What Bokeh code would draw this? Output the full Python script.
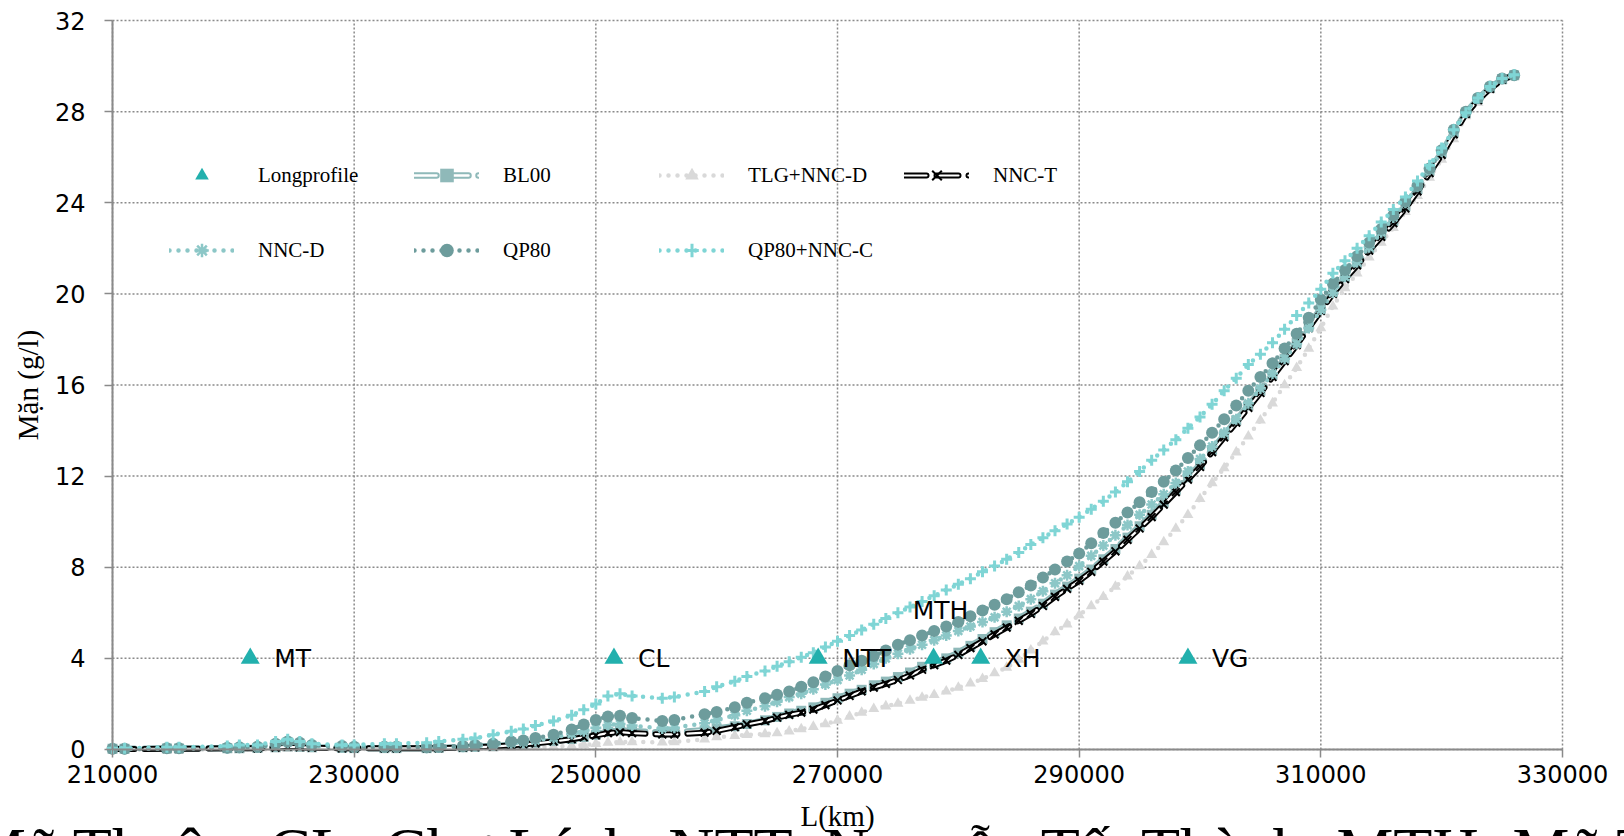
from bokeh.plotting import figure
from bokeh.models import (ColumnDataSource, FixedTicker, NumeralTickFormatter,
                          Legend, LegendItem, Label)
from bokeh.core.properties import value
from bokeh.embed import file_html
from bokeh.resources import INLINE

# ---------------- data ----------------
x_ticks = [210000, 230000, 250000, 270000, 290000, 310000, 330000]
y_ticks = [0, 4, 8, 12, 16, 20, 24, 28, 32]

L = [210000, 211000, 214500, 215500, 219500, 220500, 222000, 223500, 224500, 225500,
     226500, 229000, 230000, 232500, 233500, 236000, 237000, 239000, 240000, 241500,
     243000, 244000, 245000, 246500, 248000, 249000, 250000, 251000, 252000, 253000,
     255500, 256500, 259000, 260000, 261500, 262500,
     264000, 265000, 266000, 267000, 268000, 269000, 270000, 271000, 272000, 273000,
     274000, 275000, 276000, 277000, 278000, 279000, 280000, 281000, 282000, 283000,
     284000, 285000, 286000, 287000, 288000, 289000, 290000, 291000, 292000, 293000,
     294000, 295000, 296000, 297000, 298000, 299000, 300000, 301000, 302000, 303000,
     304000, 305000, 306000, 307000, 308000, 309000, 310000, 311000, 312000, 313000,
     314000, 315000, 316000, 317000, 318000, 319000, 320000, 321000, 322000, 323000,
     324000, 325000, 326000]

bl00 = [0.03, 0.03, 0.04, 0.04, 0.06, 0.06, 0.07, 0.1, 0.14, 0.12,
        0.1, 0.07, 0.06, 0.06, 0.06, 0.06, 0.07, 0.1, 0.12, 0.15,
        0.2, 0.25, 0.3, 0.38, 0.46, 0.55, 0.65, 0.78, 0.84, 0.8,
        0.75, 0.76, 0.84, 0.92, 1.02, 1.12,
        1.28, 1.43, 1.58, 1.7, 1.85, 2.05, 2.25, 2.45, 2.62, 2.82,
        2.98, 3.18, 3.38, 3.63, 3.8, 4.0, 4.25, 4.55, 4.85, 5.15,
        5.45, 5.75, 6.05, 6.4, 6.8, 7.15, 7.5, 7.9, 8.35, 8.8,
        9.3, 9.8, 10.3, 10.85, 11.4, 11.95, 12.5, 13.15, 13.8, 14.45,
        15.1, 15.75, 16.45, 17.15, 17.85, 18.6, 19.35, 20.1, 20.75, 21.35,
        22.0, 22.6, 23.2, 23.85, 24.6, 25.4, 26.2, 27.1, 27.95, 28.55,
        29.05, 29.42, 29.6]

tlg_nncd = [0.0, 0.0, 0.0, 0.0, 0.0, 0.01, 0.01, 0.02, 0.03, 0.03,
            0.02, 0.02, 0.02, 0.02, 0.02, 0.02, 0.02, 0.03, 0.04, 0.05,
            0.07, 0.08, 0.1, 0.12, 0.16, 0.2, 0.25, 0.3, 0.33, 0.33,
            0.32, 0.33, 0.45, 0.54, 0.6, 0.64,
            0.68, 0.72, 0.8, 0.9, 1.0, 1.12, 1.27, 1.45, 1.62, 1.78,
            1.9, 2.02, 2.15, 2.28, 2.4, 2.55, 2.72, 2.9, 3.1, 3.35,
            3.6, 3.95, 4.35, 4.75, 5.15, 5.5, 5.9, 6.3, 6.7, 7.15,
            7.6, 8.05, 8.55, 9.1, 9.7, 10.3, 11.0, 11.7, 12.35, 13.05,
            13.75, 14.45, 15.2, 16.0, 16.75, 17.6, 18.5, 19.45, 20.25, 20.9,
            21.6, 22.25, 22.9, 23.6, 24.3, 25.1, 25.9, 26.8, 27.8, 28.4,
            28.95, 29.35, 29.55]

nnc_t = [0.02, 0.02, 0.03, 0.03, 0.05, 0.05, 0.05, 0.08, 0.12, 0.1,
         0.08, 0.05, 0.05, 0.05, 0.05, 0.05, 0.06, 0.08, 0.1, 0.13,
         0.18, 0.22, 0.27, 0.35, 0.45, 0.54, 0.62, 0.72, 0.76, 0.72,
         0.66, 0.66, 0.74, 0.82, 0.98, 1.1,
         1.25, 1.4, 1.52, 1.62, 1.75, 1.95, 2.15, 2.35, 2.55, 2.72,
         2.88, 3.05, 3.25, 3.5, 3.7, 3.9, 4.15, 4.45, 4.75, 5.05,
         5.35, 5.65, 5.95, 6.3, 6.7, 7.05, 7.4, 7.8, 8.25, 8.7,
         9.2, 9.7, 10.2, 10.75, 11.3, 11.85, 12.4, 13.05, 13.7, 14.35,
         15.0, 15.65, 16.35, 17.05, 17.75, 18.5, 19.25, 20.0, 20.65, 21.25,
         21.9, 22.5, 23.1, 23.75, 24.5, 25.3, 26.1, 27.0, 27.9, 28.5,
         29.0, 29.4, 29.6]

nnc_d = [0.02, 0.02, 0.04, 0.04, 0.06, 0.08, 0.1, 0.2, 0.3, 0.25,
         0.15, 0.12, 0.1, 0.1, 0.1, 0.08, 0.1, 0.12, 0.15, 0.2,
         0.27, 0.32, 0.4, 0.52, 0.68, 0.8, 0.95, 1.08, 1.12, 1.05,
         0.92, 0.96, 1.15, 1.3, 1.5, 1.7,
         1.9, 2.1, 2.3, 2.45, 2.65, 2.85, 3.05, 3.25, 3.5, 3.75,
         4.0, 4.2, 4.4, 4.6, 4.8, 5.0, 5.2, 5.4, 5.6, 5.8,
         6.05, 6.3, 6.6, 6.95, 7.3, 7.65, 8.05, 8.5, 8.95, 9.4,
         9.85, 10.3, 10.75, 11.2, 11.7, 12.2, 12.75, 13.3, 13.9, 14.5,
         15.2, 15.85, 16.5, 17.15, 17.8, 18.5, 19.3, 20.05, 20.75, 21.4,
         22.05, 22.7, 23.35, 24.0, 24.7, 25.45, 26.25, 27.15, 28.0, 28.6,
         29.1, 29.45, 29.6]

qp80 = [0.03, 0.03, 0.05, 0.05, 0.08, 0.1, 0.12, 0.25, 0.35, 0.3,
        0.2, 0.15, 0.12, 0.12, 0.12, 0.1, 0.12, 0.15, 0.2, 0.25,
        0.35, 0.4, 0.5, 0.65, 0.88, 1.1, 1.3, 1.45, 1.48, 1.38,
        1.25, 1.3, 1.55, 1.65, 1.85, 2.05,
        2.25, 2.4, 2.55, 2.75, 2.95, 3.2, 3.45, 3.7, 3.9, 4.1,
        4.35, 4.6, 4.8, 5.0, 5.2, 5.4, 5.6, 5.85, 6.1, 6.35,
        6.6, 6.9, 7.2, 7.55, 7.9, 8.25, 8.6, 9.05, 9.5, 9.95,
        10.4, 10.85, 11.3, 11.75, 12.25, 12.8, 13.35, 13.9, 14.5, 15.1,
        15.75, 16.35, 16.95, 17.6, 18.25, 18.95, 19.75, 20.45, 21.05, 21.65,
        22.25, 22.85, 23.45, 24.05, 24.75, 25.5, 26.3, 27.2, 28.0, 28.6,
        29.1, 29.45, 29.6]

qp80_nncc = [0.05, 0.05, 0.1, 0.1, 0.15, 0.2, 0.2, 0.35, 0.45, 0.35,
             0.25, 0.2, 0.2, 0.25, 0.25, 0.3, 0.35, 0.45, 0.5, 0.65,
             0.8, 0.9, 1.05, 1.25, 1.5, 1.75, 2.0, 2.35, 2.45, 2.35,
             2.25, 2.3, 2.55, 2.75, 3.0, 3.2,
             3.45, 3.65, 3.85, 4.05, 4.25, 4.5, 4.75, 5.0, 5.25, 5.5,
             5.75, 6.0, 6.25, 6.5, 6.75, 7.0, 7.25, 7.5, 7.8, 8.05,
             8.35, 8.65, 9.0, 9.3, 9.6, 9.9, 10.2, 10.55, 10.9, 11.3,
             11.75, 12.2, 12.7, 13.15, 13.6, 14.1, 14.6, 15.15, 15.75, 16.3,
             16.9, 17.35, 17.85, 18.45, 19.05, 19.6, 20.2, 20.9, 21.45, 22.0,
             22.55, 23.15, 23.7, 24.25, 24.95, 25.65, 26.4, 27.2, 27.95, 28.6,
             29.1, 29.45, 29.62]

# Longitudinal profile stations
lp_x = [221400, 251500, 268400, 277950, 281850, 299000]
lp_y = [4, 4, 4, 4, 4, 4]
lp_names = ["MT", "CL", "NTT", "MTH", "XH", "VG"]

caption = ("MT: Mỹ Thuận, CL: Chợ Lách, NTT: Nguyễn Tất Thành, "
           "MTH: Mỹ Tho, XH: Xuân Hiệp, VG: Vàm Giồng")

X_MIN, X_MAX = 210000, 330000
Y_MIN, Y_MAX = 0, 32
# The frame covers the whole canvas so that nothing is clipped; the axes are
# pinned at x=210000 and y=0 so the plotting area keeps its place.
VIEW_X = (200731, 335131)
VIEW_Y = (-3.819, 32.878)

# ---------------- figure ----------------
p = figure(width=1624, height=836, x_range=VIEW_X, y_range=VIEW_Y,
           output_backend="svg", toolbar_location=None,
           min_border_left=0, min_border_right=0, min_border_top=0,
           min_border_bottom=0)
p.outline_line_color = None
p.background_fill_color = "white"
p.border_fill_color = "white"

GRID = "#8a8a8a"
p.xgrid.visible = False
p.ygrid.visible = False
# grid lines limited to the data area
p.segment(x0=x_ticks, y0=[Y_MIN] * len(x_ticks), x1=x_ticks, y1=[Y_MAX] * len(x_ticks),
          line_color=GRID, line_dash="2 2", line_width=1.5)
p.segment(x0=[X_MIN] * len(y_ticks), y0=y_ticks, x1=[X_MAX] * len(y_ticks), y1=y_ticks,
          line_color=GRID, line_dash="2 2", line_width=1.5)

p.xaxis.ticker = FixedTicker(ticks=x_ticks)
p.yaxis.ticker = FixedTicker(ticks=y_ticks)
p.xaxis.formatter = NumeralTickFormatter(format="0")
p.xaxis.fixed_location = Y_MIN
p.yaxis.fixed_location = X_MIN
p.xaxis.bounds = (X_MIN, X_MAX)
p.yaxis.bounds = (Y_MIN, Y_MAX)
for ax in (p.xaxis, p.yaxis):
    ax.axis_line_color = GRID
    ax.axis_line_width = 2
    ax.major_tick_line_color = GRID
    ax.major_tick_line_width = 1.5
    ax.major_tick_out = 8
    ax.major_tick_in = 0
    ax.minor_tick_line_color = None
    ax.major_label_text_font = "DejaVu Sans"
    ax.major_label_text_font_size = "24px"
    ax.major_label_text_color = "black"
    ax.axis_label_text_font = "Liberation Serif"
    ax.axis_label_text_font_style = "normal"
    ax.axis_label_text_font_size = "29px"
    ax.axis_label_text_color = "black"
p.xaxis.axis_label = "L(km)"
p.yaxis.axis_label = "Mặn (g/l)"
p.xaxis.major_label_standoff = 8
p.xaxis.axis_label_standoff = 13
p.yaxis.major_label_standoff = 19
p.yaxis.axis_label_standoff = 8

src = ColumnDataSource(dict(L=L, bl00=bl00, tlg=tlg_nncd, nnct=nnc_t, nncd=nnc_d,
                            qp80=qp80, qpc=qp80_nncc))

C_LP = "#22b0ad"
C_BL = "#8fb9b9"
C_TLG = "#d9d9d9"
C_NNCD = "#8cc7c7"
C_QP = "#6d9c9c"
C_QPC = "#7fd5d5"

DOT = "0 9"
DASH = "22 10"

# Oversized caption at the bottom edge (cut by the window)
p.add_layout(Label(x=187650, y=-4.43, text=caption, text_font="Liberation Serif",
                   text_font_size="64px", text_baseline="alphabetic",
                   text_align="left", text_color="black"))

# TLG+NNC-D
r_tlg_l = p.line("L", "tlg", source=src, line_color=C_TLG, line_width=4.5,
                 line_dash=DOT, line_cap="round")
r_tlg_m = p.scatter("L", "tlg", source=src, marker="triangle", size=11,
                    fill_color=C_TLG, line_color=None)

# BL00 (double dashed line + squares)
r_bl_o = p.line("L", "bl00", source=src, line_color=C_BL, line_width=6.5,
                line_dash=DASH, line_cap="round")
r_bl_i = p.line("L", "bl00", source=src, line_color="white", line_width=2.5,
                line_dash=DASH, line_cap="round")
r_bl_m = p.scatter("L", "bl00", source=src, marker="square", size=10,
                   fill_color=C_BL, line_color=None)

# NNC-T (double dashed black line + x)
r_nt_o = p.line("L", "nnct", source=src, line_color="black", line_width=6,
                line_dash=DASH, line_cap="round")
r_nt_i = p.line("L", "nnct", source=src, line_color="white", line_width=2.2,
                line_dash=DASH, line_cap="round")
r_nt_m = p.scatter("L", "nnct", source=src, marker="x", size=11,
                   line_color="black", line_width=2)

# NNC-D
r_nd_l = p.line("L", "nncd", source=src, line_color=C_NNCD, line_width=4.5,
                line_dash=DOT, line_cap="round")
r_nd_m = p.scatter("L", "nncd", source=src, marker="asterisk", size=11,
                   line_color=C_NNCD, line_width=2.5)

# QP80
r_qp_l = p.line("L", "qp80", source=src, line_color=C_QP, line_width=4.5,
                line_dash=DOT, line_cap="round")
r_qp_m = p.scatter("L", "qp80", source=src, marker="circle", size=12,
                   fill_color=C_QP, line_color=None)

# QP80+NNC-C
r_qc_l = p.line("L", "qpc", source=src, line_color=C_QPC, line_width=4.5,
                line_dash=DOT, line_cap="round")
r_qc_m = p.scatter("L", "qpc", source=src, marker="cross", size=11,
                   line_color=C_QPC, line_width=3)

# Longprofile stations
lp_src = ColumnDataSource(dict(x=lp_x, y=lp_y, name=lp_names))
r_lp = p.scatter("x", "y", source=lp_src, marker="triangle", size=19,
                 fill_color=C_LP, line_color=None)

side_src = ColumnDataSource(dict(x=[lp_x[i] for i in (0, 1, 2, 4, 5)],
                                 y=[lp_y[i] for i in (0, 1, 2, 4, 5)],
                                 t=[lp_names[i] for i in (0, 1, 2, 4, 5)]))
p.text("x", "y", text="t", source=side_src, x_offset=24, text_baseline="middle",
       text_align="left", text_font=value("DejaVu Sans"), text_font_size="25px",
       text_color="black")
top_src = ColumnDataSource(dict(x=[lp_x[3]], y=[lp_y[3]], t=[lp_names[3]]))
p.text("x", "y", text="t", source=top_src, x_offset=7, y_offset=-48,
       text_baseline="middle", text_align="center",
       text_font=value("DejaVu Sans"), text_font_size="25px", text_color="black")

# Legends (two rows)
def make_legend(items, loc):
    lg = Legend(items=items, location=loc, orientation="horizontal",
                glyph_width=65, glyph_height=34, label_standoff=24,
                label_width=135, label_height=34, spacing=21, padding=0,
                margin=0, border_line_alpha=0, background_fill_alpha=0,
                label_text_font="Liberation Serif", label_text_font_size="21px",
                label_text_color="black")
    return lg

leg1 = make_legend([
    LegendItem(label="Longprofile", renderers=[r_lp]),
    LegendItem(label="BL00", renderers=[r_bl_o, r_bl_i, r_bl_m]),
    LegendItem(label="TLG+NNC-D", renderers=[r_tlg_l, r_tlg_m]),
    LegendItem(label="NNC-T", renderers=[r_nt_o, r_nt_i, r_nt_m]),
], (169, 644))
leg2 = make_legend([
    LegendItem(label="NNC-D", renderers=[r_nd_l, r_nd_m]),
    LegendItem(label="QP80", renderers=[r_qp_l, r_qp_m]),
    LegendItem(label="QP80+NNC-C", renderers=[r_qc_l, r_qc_m]),
], (169, 569))
p.add_layout(leg1)
p.add_layout(leg2)

open("out.html", "w").write(file_html(p, INLINE))
